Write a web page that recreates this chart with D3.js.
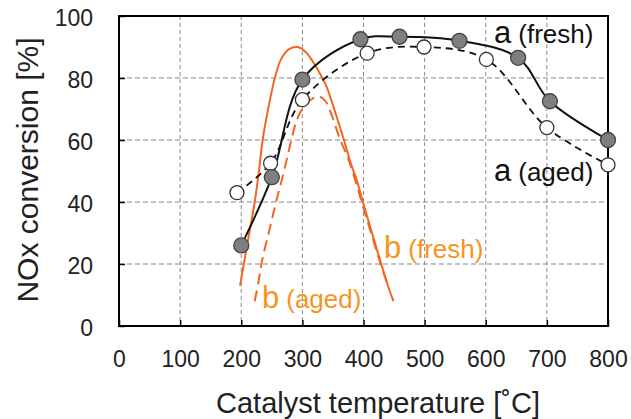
<!DOCTYPE html>
<html>
<head>
<meta charset="utf-8">
<script src="https://cdn.jsdelivr.net/npm/d3@7"></script>
<style>
  body { margin: 0; background: #fff; }
  text { font-family: "Liberation Sans", Arial, sans-serif; }
</style>
</head>
<body>
<svg id="chart" width="631" height="419"></svg>
<script>
// catalyst a, measured points [temp, conversion]
var aFresh = [[200,26],[250,48],[300,79.5],[395,92.5],[459,93.3],[557,92],[653,86.5],[705,72.5],[800,60]];
var aAged = [[193,43],[248,52.5],[300,73],[406,88],[499,90],[601,86],[700,64],[800,52]];

// catalyst b, curves only
var bFresh = [[198,13],[206,22],[214,31],[222,40],[229,50],[235,60],[244,70],[255,80],[265,86],[278,89.3],[292,90],[305,88.5],[318,85],[330,81],[340,77],[352,70],[368,60],[380,52],[389,47],[399,40],[414,30],[429,20],[440,13],[449,8]];
var bAged = [[222,8],[228,14],[234,21],[246,31],[257,40],[270,50],[282,60],[292,67],[305,71.5],[318,73.5],[328,74],[338,72.5],[348,68],[362,60],[375,54],[388,46],[400,38],[414,29],[428,20],[440,13]];

var xTicks = [0,100,200,300,400,500,600,700,800];
var yTicks = [0,20,40,60,80,100];

var svg = d3.select("#chart");
var mLeft = 119, mRight = 608, mTop = 16, mBottom = 326;

var x = d3.scaleLinear().domain([0,800]).range([mLeft,mRight]);
var y = d3.scaleLinear().domain([0,100]).range([mBottom,mTop]);

var orange = "#f26522", labelOrange = "#f7941d";

// grid
svg.append("g").selectAll("line")
    .data(xTicks.slice(1,-1))
    .enter().append("line")
    .attr("x1", d => x(d)).attr("x2", d => x(d))
    .attr("y1", mTop).attr("y2", mBottom)
    .attr("stroke", "#888").attr("stroke-width", 1)
    .attr("stroke-dasharray", "4,3");
svg.append("g").selectAll("line")
    .data(yTicks.slice(1,-1))
    .enter().append("line")
    .attr("x1", mLeft).attr("x2", mRight)
    .attr("y1", d => y(d)).attr("y2", d => y(d))
    .attr("stroke", "#888").attr("stroke-width", 1.2)
    .attr("stroke-dasharray", "5,3");

// axes with inner ticks
var xAxis = svg.append("g")
    .attr("transform", "translate(0," + mBottom + ")")
    .call(d3.axisBottom(x).tickValues(xTicks).tickSize(-6).tickPadding(25));
var yAxis = svg.append("g")
    .attr("transform", "translate(" + mLeft + ",0)")
    .call(d3.axisLeft(y).tickValues(yTicks).tickSize(-6).tickPadding(26));
[xAxis, yAxis].forEach(function(g){
    g.select(".domain").remove();
    g.selectAll("line").attr("stroke", "#000").attr("stroke-width", 1.5);
    g.selectAll("text").attr("font-size", 23).attr("fill", "#222")
        .attr("font-family", "Liberation Sans, Arial, sans-serif");
});
yAxis.selectAll("text").attr("dy", "0.42em");

// frame
svg.append("rect")
    .attr("x", mLeft).attr("y", mTop)
    .attr("width", mRight-mLeft).attr("height", mBottom-mTop)
    .attr("fill", "none").attr("stroke", "#000").attr("stroke-width", 2);

var line = d3.line()
    .x(d => x(d[0])).y(d => y(d[1]))
    .curve(d3.curveCatmullRom.alpha(0.5));

// b curves
svg.append("path").datum(bFresh)
    .attr("d", line).attr("fill", "none")
    .attr("stroke", orange).attr("stroke-width", 2);
svg.append("path").datum(bAged)
    .attr("d", line).attr("fill", "none")
    .attr("stroke", orange).attr("stroke-width", 2)
    .attr("stroke-dasharray", "11,6");

// a curves
svg.append("path").datum(aAged)
    .attr("d", line).attr("fill", "none")
    .attr("stroke", "#111").attr("stroke-width", 1.8)
    .attr("stroke-dasharray", "7,5");
svg.append("path").datum(aFresh)
    .attr("d", line).attr("fill", "none")
    .attr("stroke", "#111").attr("stroke-width", 2);

svg.append("g").selectAll("circle")
    .data(aAged).enter().append("circle")
    .attr("cx", d => x(d[0])).attr("cy", d => y(d[1]))
    .attr("r", 7).attr("fill", "#fff")
    .attr("stroke", "#333").attr("stroke-width", 1.3);
svg.append("g").selectAll("circle")
    .data(aFresh).enter().append("circle")
    .attr("cx", d => x(d[0])).attr("cy", d => y(d[1]))
    .attr("r", 7.5).attr("fill", "#7f7f7f")
    .attr("stroke", "#444").attr("stroke-width", 1.3);

// series labels
function label(xp, yp, big, small, col){
    var t = svg.append("text").attr("x", xp).attr("y", yp).attr("fill", col);
    t.append("tspan").attr("font-size", 31).text(big);
    t.append("tspan").attr("font-size", 26).attr("dx", 7).text(small);
}
label(494, 43, "a", "(fresh)", "#111");
label(494, 181, "a", "(aged)", "#111");
label(384, 258, "b", "(fresh)", labelOrange);
label(262, 308, "b", "(aged)", labelOrange);

// axis titles
svg.append("text")
    .attr("transform", "translate(38,170) rotate(-90)")
    .attr("text-anchor", "middle").attr("font-size", 30).attr("fill", "#222")
    .text("NOx conversion [%]");
svg.append("text")
    .attr("x", 378).attr("y", 413)
    .attr("text-anchor", "middle").attr("font-size", 29).attr("fill", "#222")
    .text("Catalyst temperature [˚C]");
</script>
</body>
</html>
